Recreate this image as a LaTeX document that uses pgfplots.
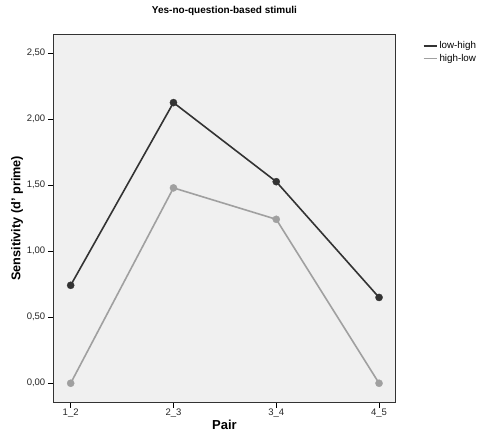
\documentclass[border=0pt]{standalone}
\usepackage{pgfplots}
\pgfplotsset{compat=1.18}
\usepackage{fontspec}
\setmainfont{Liberation Sans}
\definecolor{bgpanel}{HTML}{F0F0F0}
\definecolor{lowhigh}{HTML}{333333}
\definecolor{highlow}{HTML}{A0A0A0}
\begin{document}
\begin{tikzpicture}
\begin{axis}[
  at={(0,0)}, anchor=south west,
  scale only axis,
  width=342.4pt, height=367.5pt,
  xmin=-0.169, xmax=3.162,
  ymin=-0.142, ymax=2.642,
  axis background/.style={fill=bgpanel},
  axis line style={draw=black!80, line width=0.8pt},
  xtick={0,1,2,3},
  xticklabels={1\_2,2\_3,3\_4,4\_5},
  ytick={0,0.5,1,1.5,2,2.5},
  yticklabel={\pgfmathprintnumber[fixed,fixed zerofill,precision=2,use comma]{\tick}},
  /pgf/number format/assume math mode=true,
  tick style={black, line width=0.6pt},
  tick align=outside,
  major tick length=5.5pt,
  xtick pos=bottom, ytick pos=left,
  ticklabel style={font=\fontsize{9.5}{11}\selectfont, text=black!85},
  yticklabel style={xshift=1pt},
  xticklabel style={yshift=2pt},
  xlabel={\bfseries Pair},
  ylabel={\bfseries Sensitivity (d' prime)},
  xlabel style={font=\fontsize{13}{15}\selectfont, yshift=4pt},
  ylabel style={font=\fontsize{12.7}{15}\selectfont, yshift=-3pt},
  title={\bfseries Yes-no-question-based stimuli},
  title style={font=\fontsize{10}{12}\selectfont, yshift=9pt},
  legend style={at={(1,1)}, anchor=north west, xshift=26pt, yshift=-4pt,
    draw=none, fill=none, font=\fontsize{9.8}{11}\selectfont,
    row sep=0pt, inner sep=1pt},
  legend cell align=left,
  legend image code/.code={\draw[#1, mark=none] (0cm,0cm) -- (13pt,0cm);},
]
\addplot[color=lowhigh, line width=1.6pt, mark=*, mark size=3.6pt,
  mark options={solid, fill=lowhigh, draw=lowhigh, line width=0.3pt}]
  coordinates {(0,0.742) (1,2.126) (2,1.527) (3,0.65)};
\addlegendentry{low-high}
\addplot[color=highlow, line width=1.6pt, mark=*, mark size=3.6pt,
  mark options={solid, fill=highlow, draw=highlow, line width=0.3pt}]
  coordinates {(0,0) (1,1.48) (2,1.242) (3,0)};
\addlegendentry{high-low}
\end{axis}
\pgfresetboundingbox
\path (-53.3pt,-43pt) rectangle (426.7pt,402pt);
\end{tikzpicture}
\end{document}
